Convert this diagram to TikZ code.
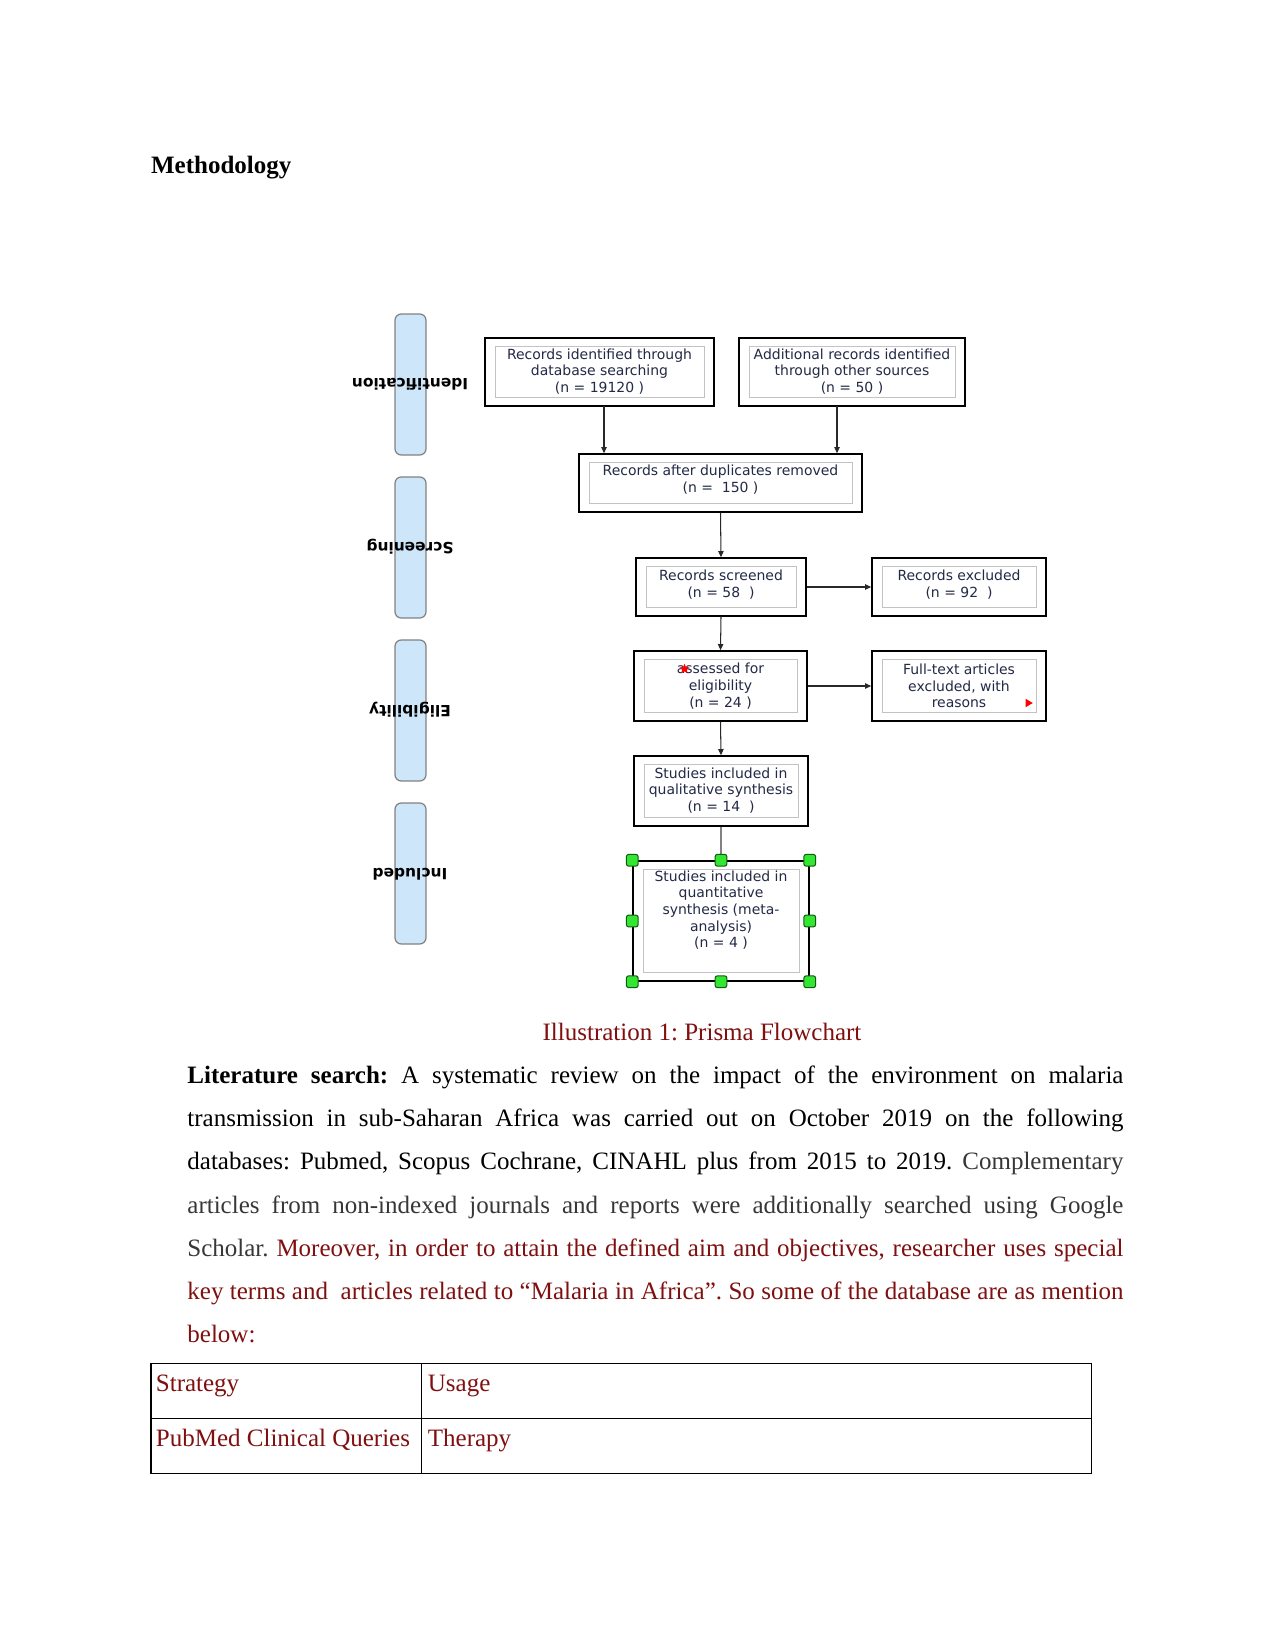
\documentclass[tikz,border=0pt]{standalone}
\usepackage{fontspec}
\setmainfont{Liberation Serif}
\newfontfamily\boxfont{DejaVu Sans}
\usetikzlibrary{arrows.meta,shapes.geometric}
\frenchspacing
\definecolor{capred}{RGB}{128,16,16}
\definecolor{txtgray}{RGB}{55,55,55}
\definecolor{boxtxt}{RGB}{35,42,70}
\definecolor{barblue}{RGB}{205,230,250}
\definecolor{bargray}{RGB}{130,130,130}
\definecolor{innergray}{RGB}{195,195,195}
\definecolor{hgreen}{RGB}{50,230,50}
\definecolor{hdark}{RGB}{20,90,20}
\definecolor{arrgray}{RGB}{40,40,40}
\begin{document}
\frenchspacing
\begin{tikzpicture}[x=0.48pt,y=-0.48pt,
  flowbox/.style={draw=black, line width=0.7pt, text=boxtxt,
    font=\boxfont\fontsize{6.7}{8}\selectfont, align=center, inner sep=0pt,
    path picture={\draw[innergray,line width=0.45pt]
      ([shift={(4.8pt,4.3pt)}]path picture bounding box.south west) rectangle
      ([shift={(-4.8pt,-4.3pt)}]path picture bounding box.north east);}},
  boxtext/.style={text=boxtxt, font=\boxfont\fontsize{6.7}{8}\selectfont, align=center, inner sep=0pt},
  sidebar/.style={draw=bargray, line width=0.6pt, fill=barblue, rounded corners=3pt,
    minimum width=31*0.48pt, minimum height=141*0.48pt, inner sep=0pt},
  sidelabel/.style={font=\boxfont\bfseries\fontsize{7.4}{8.5}\selectfont, text=black, rotate=180, inner sep=0pt},
  arr/.style={draw=arrgray, line width=0.5pt, -{Triangle[length=3pt,width=2.6pt]}},
  handle/.style={draw=hdark, fill=hgreen, line width=0.5pt, rounded corners=1pt,
    minimum size=5.6pt, inner sep=0pt},
  bodyline/.style={anchor=base west, inner sep=0pt, font=\fontsize{12}{14}\selectfont\frenchspacing},
  celltext/.style={anchor=base west, inner sep=0pt, font=\fontsize{12}{14}\selectfont, text=capred}
]
\useasboundingbox[fill=white] (0,0) rectangle (1275,1651);

% Heading
\node[anchor=base west, inner sep=0pt, font=\bfseries\fontsize{12}{14}\selectfont] (head) at (150.7,173.3) {Methodology};

% Side bars
\node[sidebar] (s1) at (410.5,384.5) {};
\node[sidebar] (s2) at (410.5,547.5) {};
\node[sidebar] (s3) at (410.5,710.5) {};
\node[sidebar] (s4) at (410.5,873.5) {};
\node[sidelabel] (l1) at (410,384) {Identification};
\node[sidelabel] (l2) at (410,547) {Screening};
\node[sidelabel] (l3) at (410,710) {Eligibility};
\node[sidelabel] (l4) at (410,874) {Included};

% Flow boxes
\node[flowbox, minimum width=229*0.48pt, minimum height=68*0.48pt] (b1) at (599.5,372) {};
\node[boxtext] (t1) at (599.5,371.5) {Records identified through\\database searching\\(n = 19120 )};
\node[flowbox, minimum width=226*0.48pt, minimum height=68*0.48pt] (b2) at (852,372) {};
\node[boxtext] (t2) at (852,371.5) {Additional records identified\\through other sources\\(n = 50 )};
\node[flowbox, minimum width=283*0.48pt, minimum height=58*0.48pt] (b3) at (720.5,483) {};
\node[boxtext] (t3) at (720.5,479.5) {Records after duplicates removed\\(n =\ \ 150 )};
\node[flowbox, minimum width=170*0.48pt, minimum height=58*0.48pt] (b4) at (721,587) {};
\node[boxtext] (t4) at (721,584.5) {Records screened\\(n = 58\ \ )};
\node[flowbox, minimum width=174*0.48pt, minimum height=58*0.48pt] (b5) at (959,587) {};
\node[boxtext] (t5) at (959,584.5) {Records excluded\\(n = 92\ \ )};
\node[flowbox, minimum width=173*0.48pt, minimum height=70*0.48pt] (b6) at (720.5,686) {};
\node[boxtext] (t6) at (720.5,686) {assessed for\\eligibility\\(n = 24 )};
\node[flowbox, minimum width=174*0.48pt, minimum height=70*0.48pt] (b7) at (959,686) {};
\node[boxtext] (t7) at (959,686) {Full-text articles\\excluded, with\\reasons};
\node[flowbox, minimum width=174*0.48pt, minimum height=70*0.48pt] (b8) at (721,791) {};
\node[boxtext] (t8) at (721,790.5) {Studies included in\\qualitative synthesis\\(n = 14\ \ )};
\node[flowbox, minimum width=176*0.48pt, minimum height=120*0.48pt] (b9) at (721,921) {};
\node[boxtext, anchor=north] (t9) at (721,870) {Studies included in\\quantitative\\synthesis (meta-\\analysis)\\(n = 4 )};

% Red marks
\node[star, star points=5, star point ratio=2.2, fill=red, inner sep=0pt, minimum size=5pt] (rs) at (684.5,669) {};
\coordinate (rt) at (1029,703);
\fill[red] ([shift={(-1.6pt,2pt)}]rt) -- ([shift={(1.8pt,0pt)}]rt) -- ([shift={(-1.6pt,-2pt)}]rt) -- cycle;

% Connectors
\coordinate (a1) at (604,406);
\coordinate (a2) at (837,406);
\draw[arr] (a1) -- (a1 |- b3.north);
\draw[arr] (a2) -- (a2 |- b3.north);
\draw[arr] (b3.south) -- (b4.north);
\draw[arr] (b4.east) -- (b5.west);
\draw[arr] (b4.south) -- (b6.north);
\draw[arr] (b6.east) -- (b7.west);
\draw[arr] (b6.south) -- (b8.north);
\draw[draw=bargray, line width=1pt] (b8.south) -- (b9.north);

% Handles
\foreach \a/\n in {north west/h1,north/h2,north east/h3,west/h4,east/h5,south west/h6,south/h7,south east/h8}
  \node[handle] (\n) at (b9.\a) {};

% Caption
\node[anchor=base, inner sep=0pt, font=\fontsize{12}{14}\selectfont\frenchspacing, text=capred] (cap) at (702,1040) {Illustration 1: Prisma Flowchart};

% Body text
\node[bodyline] (p1) at (187,1083.5) {\makebox[449.3pt][s]{\textbf{Literature search:} A systematic review on the impact of the environment on malaria}};
\node[bodyline] (p2) at (187,1126.7) {\makebox[449.3pt][s]{transmission in sub-Saharan Africa was carried out on October 2019 on the following}};
\node[bodyline] (p3) at (187,1169.9) {\makebox[449.3pt][s]{databases: Pubmed, Scopus Cochrane, CINAHL plus from 2015 to 2019. \textcolor{txtgray}{Complementary}}};
\node[bodyline, text=txtgray] (p4) at (187,1213.1) {\makebox[449.3pt][s]{articles from non-indexed journals and reports were additionally searched using Google}};
\node[bodyline] (p5) at (187,1256.3) {\makebox[449.3pt][s]{\textcolor{txtgray}{Scholar.} \textcolor{capred}{Moreover, in order to attain the defined aim and objectives, researcher uses special}}};
\node[bodyline, text=capred] (p6) at (187,1299.5) {\makebox[449.3pt][s]{key terms and\hspace{0.25em} articles related to “Malaria in Africa”. So some of the database are as mention}};
\node[bodyline, text=capred] (p7) at (187,1342.7) {below:};

% Table
\draw[line width=0.5pt] (151,1363.3) rectangle (1091.5,1473.3);
\draw[line width=0.5pt] (421.6,1363.3) -- (421.6,1473.3);
\draw[line width=0.5pt] (151,1418.7) -- (1091.5,1418.7);
\node[celltext] (c1) at (155.5,1391.7) {Strategy};
\node[celltext] (c2) at (427.5,1391.7) {Usage};
\node[celltext] (c3) at (155.5,1446.7) {PubMed Clinical Queries};
\node[celltext] (c4) at (427.5,1446.7) {Therapy};
\end{tikzpicture}
\end{document}
